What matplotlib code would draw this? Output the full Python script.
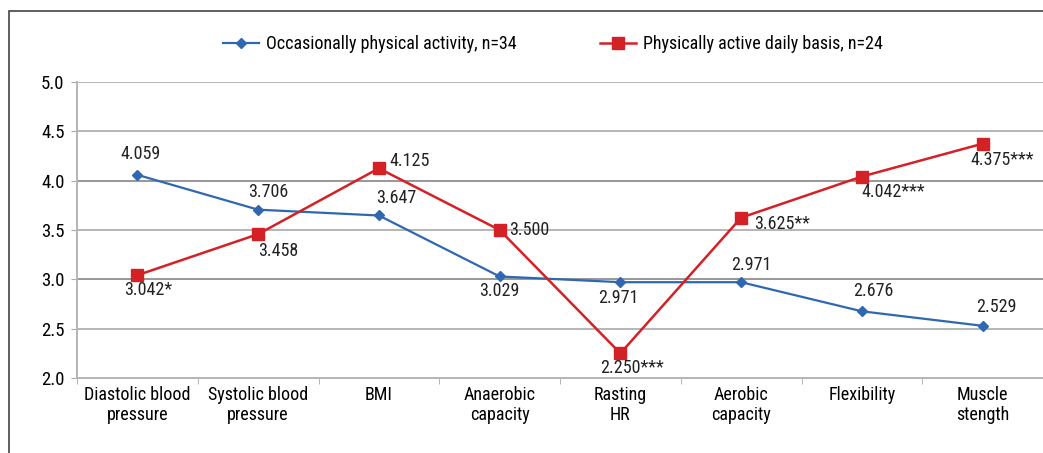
import matplotlib.pyplot as plt
from matplotlib.patches import Rectangle
from matplotlib import font_manager

# pick a condensed face if one is available
names = {f.name for f in font_manager.fontManager.ttflist}
font = 'DejaVu Sans'
for cand in ['Liberation Sans Narrow', 'Roboto Condensed', 'Open Sans Condensed', 'DejaVu Sans Condensed']:
    if cand in names:
        font = cand
        break
plt.rcParams['font.family'] = [font, 'DejaVu Sans']

categories = ['Diastolic blood\npressure', 'Systolic blood\npressure', 'BMI',
              'Anaerobic\ncapacity', 'Rasting\nHR', 'Aerobic\ncapacity',
              'Flexibility', 'Muscle\nstength']
occasional = [4.059, 3.706, 3.647, 3.029, 2.971, 2.971, 2.676, 2.529]
daily = [3.042, 3.458, 4.125, 3.500, 2.250, 3.625, 4.042, 4.375]
daily_marks = ['*', '', '', '', '***', '**', '***', '***']

# label offsets in pixels (dx, dy, ha, va)
occ_pos = [(3, 12, 'center', 'bottom'), (10, 9, 'center', 'bottom'), (17, 8, 'center', 'bottom'),
           (0, -6, 'center', 'top'), (-2, -7, 'center', 'top'), (10, 8, 'center', 'bottom'),
           (11, 11, 'center', 'bottom'), (14, 10, 'center', 'bottom')]
daily_pos = [(-13, -6, 'left', 'top'), (0, -8, 'left', 'top'), (11, 7, 'left', 'center'),
             (10, 0, 'left', 'center'), (-20, -6, 'left', 'top'), (13, -6, 'left', 'center'),
             (0, -6, 'left', 'top'), (-12, -7, 'left', 'top')]

blue = '#2f68b0'
red = '#d42126'

fig = plt.figure(figsize=(10.43, 4.53), dpi=100)
ax = fig.add_axes([77 / 1043, 1 - 378 / 453, 1 - 77 / 1043, (378 - 82) / 453])

x = list(range(len(categories)))
ax.plot(x, occasional, color=blue, lw=1.6, marker='D', ms=5,
        label='Occasionally physical activity, n=34', zorder=3)
ax.plot(x, daily, color=red, lw=1.8, marker='s', ms=8,
        label='Physically active daily basis, n=24', zorder=3)

fs = 13
for i, v in enumerate(occasional):
    dx, dy, ha, va = occ_pos[i]
    ax.annotate(f'{v:.3f}', (i, v), xytext=(dx, dy), textcoords='offset pixels',
                ha=ha, va=va, fontsize=fs, color='#222222')
for i, v in enumerate(daily):
    dx, dy, ha, va = daily_pos[i]
    ax.annotate(f'{v:.3f}{daily_marks[i]}', (i, v), xytext=(dx, dy), textcoords='offset pixels',
                ha=ha, va=va, fontsize=fs, color='#222222')

ax.set_xlim(-0.5, 7.5)
ax.set_ylim(2.0, 5.0)
ax.set_yticks([2.0, 2.5, 3.0, 3.5, 4.0, 4.5, 5.0])
ax.set_yticklabels([f'{t:.1f}' for t in ax.get_yticks()], fontsize=fs + 0.5)
ax.set_xticks(x)
ax.set_xticklabels(categories, fontsize=fs, linespacing=1.15)
ax.set_xticks([i + 0.5 for i in range(-1, 8)], minor=True)
ax.tick_params(axis='x', which='major', length=0, pad=6)
ax.tick_params(axis='x', which='minor', length=4, color='#aaaaaa')
ax.tick_params(axis='y', length=4, color='#aaaaaa', pad=5)
ax.grid(axis='y', color='#b5b5b5', lw=1.4)
for t in [3.0, 4.0]:
    ax.axhline(t, color='#999999', lw=1.4, zorder=1)
for s in ['top', 'right']:
    ax.spines[s].set_visible(False)
ax.spines['left'].set_color('#b5b5b5')
ax.spines['bottom'].set_color('#b5b5b5')
ax.spines['left'].set_linewidth(1.4)
ax.spines['bottom'].set_linewidth(1.4)
ax.set_axisbelow(True)

fig.legend(loc='center', bbox_to_anchor=(553 / 1043, 1 - 44 / 453), ncol=2,
           frameon=False, fontsize=fs, handlelength=2.0, columnspacing=4.6,
           handletextpad=0.4)

fig.add_artist(Rectangle((9 / 1043, -0.2), 1.2, 1.2 - 11 / 453,
                         transform=fig.transFigure, fill=False,
                         edgecolor='#444444', lw=1.2))

fig.savefig('out.png', dpi=100)
